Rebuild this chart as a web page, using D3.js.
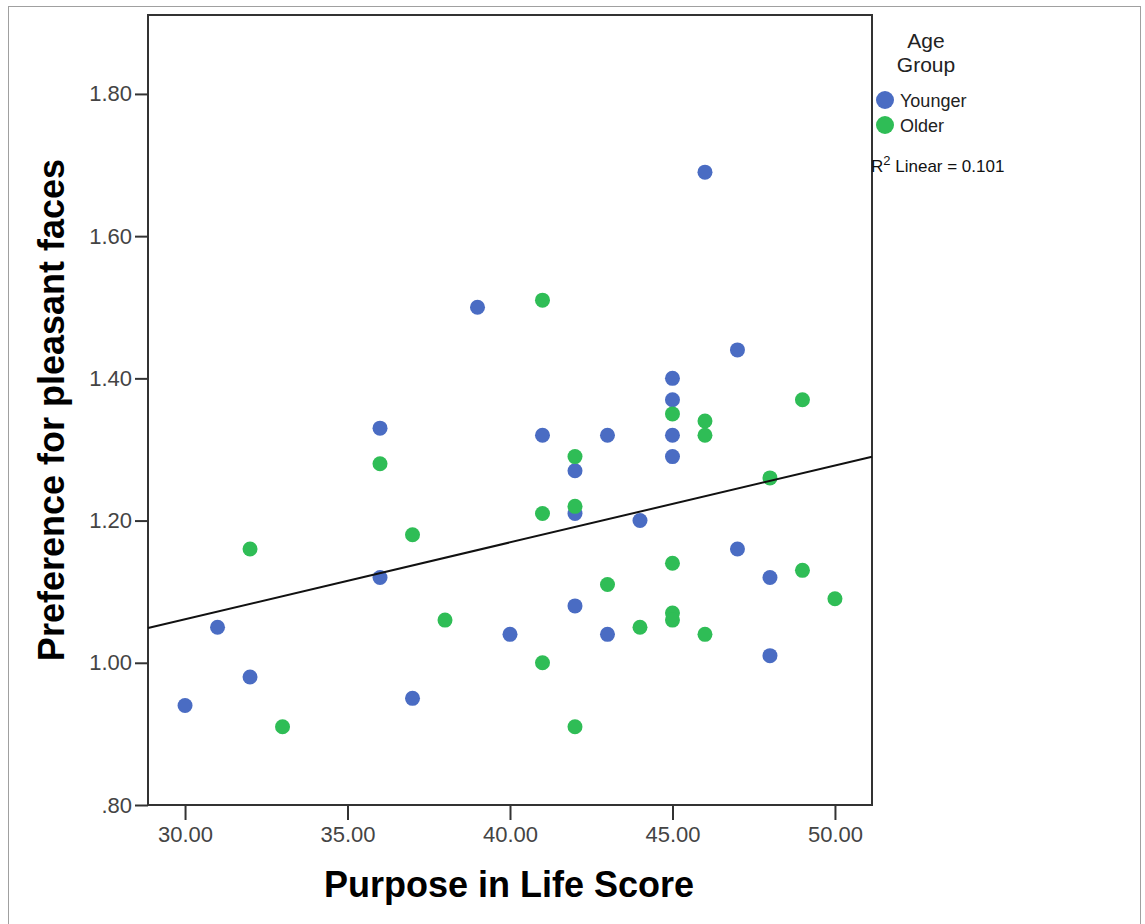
<!DOCTYPE html>
<html>
<head>
<meta charset="utf-8">
<script src="https://cdn.jsdelivr.net/npm/d3@7"></script>
<style>
  body { margin: 0; background: #fff; }
  text { font-family: "Liberation Sans", Arial, sans-serif; }
</style>
</head>
<body>
<svg id="chart" width="1145" height="924"></svg>
<script>
// data
var groups = ["Younger", "Older"]
var group_colors = ["#4a6cc3", "#2fbd56"]

var younger_x = [30, 31, 32, 36, 36, 37, 39, 40, 41, 42, 42, 42, 43, 43, 44, 45, 45, 45, 45, 46, 47, 47, 48, 48]
var younger_y = [0.94, 1.05, 0.98, 1.33, 1.12, 0.95, 1.50, 1.04, 1.32, 1.27, 1.21, 1.08, 1.32, 1.04, 1.20, 1.40, 1.37, 1.32, 1.29, 1.69, 1.44, 1.16, 1.12, 1.01]

var older_x = [32, 33, 36, 37, 38, 41, 41, 41, 42, 42, 42, 43, 44, 45, 45, 45, 45, 46, 46, 46, 48, 49, 49, 50]
var older_y = [1.16, 0.91, 1.28, 1.18, 1.06, 1.51, 1.21, 1.00, 1.29, 1.22, 0.91, 1.11, 1.05, 1.35, 1.14, 1.07, 1.06, 1.34, 1.32, 1.04, 1.26, 1.37, 1.13, 1.09]

var x_ticks = [30, 35, 40, 45, 50]
var y_ticks = [0.8, 1.0, 1.2, 1.4, 1.6, 1.8]
var r2_label = "0.101"

var svg = d3.select("#chart")
var plot_l = 148, plot_r = 872, plot_t = 15, plot_b = 805

var x = d3.scaleLinear().domain([28.86, 51.14]).range([plot_l, plot_r])
var y = d3.scaleLinear().domain([0.8, 1.911]).range([plot_b, plot_t])

// outer frame
svg.append("rect")
    .attr("x", 8.5).attr("y", 6.5)
    .attr("width", 1132).attr("height", 930)
    .attr("fill", "none")
    .attr("stroke", "#a0a0a0")
    .attr("stroke-width", 1)

var points = []
for(var i = 0; i < younger_x.length; i++){
    points.push({x: younger_x[i], y: younger_y[i], g: 0})
}
for(var i = 0; i < older_x.length; i++){
    points.push({x: older_x[i], y: older_y[i], g: 1})
}

// axes
var x_axis = svg.append("g")
    .attr("transform", "translate(0," + plot_b + ")")
    .call(d3.axisBottom(x).tickValues(x_ticks).tickSize(15).tickPadding(6).tickFormat(d3.format(".2f")))
var y_axis = svg.append("g")
    .attr("transform", "translate(" + plot_l + ",0)")
    .call(d3.axisLeft(y).tickValues(y_ticks).tickSize(13).tickPadding(3)
        .tickFormat(function(d){ return d3.format(".2f")(d).replace(/^0/, "") }))

x_axis.select(".domain").remove()
y_axis.select(".domain").remove()
svg.selectAll(".tick line").attr("stroke", "#333").attr("stroke-width", 2)
svg.selectAll(".tick text")
    .attr("fill", "#444")
    .attr("font-size", 22)
    .attr("font-family", "'Liberation Sans', Arial, sans-serif")

// plot box
svg.append("rect")
    .attr("x", plot_l).attr("y", plot_t)
    .attr("width", plot_r - plot_l).attr("height", plot_b - plot_t)
    .attr("fill", "none")
    .attr("stroke", "#333")
    .attr("stroke-width", 2)

// points
svg.append("g").selectAll("circle")
    .data(points)
    .enter().append("circle")
    .attr("cx", function(d){ return x(d.x) })
    .attr("cy", function(d){ return y(d.y) })
    .attr("r", 7.5)
    .attr("fill", function(d){ return group_colors[d.g] })

// linear fit over all points
var mx = d3.mean(points, function(d){ return d.x })
var my = d3.mean(points, function(d){ return d.y })
var sxy = d3.sum(points, function(d){ return (d.x - mx) * (d.y - my) })
var sxx = d3.sum(points, function(d){ return (d.x - mx) * (d.x - mx) })
var slope = sxy / sxx
var icpt = my - slope * mx
var xd = x.domain()

svg.append("line")
    .attr("x1", x(xd[0])).attr("y1", y(icpt + slope * xd[0]))
    .attr("x2", x(xd[1])).attr("y2", y(icpt + slope * xd[1]))
    .attr("stroke", "#111")
    .attr("stroke-width", 2)

// axis titles
svg.append("text")
    .attr("x", (plot_l + plot_r) / 2 - 1)
    .attr("y", 897)
    .attr("text-anchor", "middle")
    .attr("font-size", 36)
    .attr("font-weight", "bold")
    .attr("fill", "#000")
    .text("Purpose in Life Score")

svg.append("text")
    .attr("transform", "translate(64,410) rotate(-90)")
    .attr("text-anchor", "middle")
    .attr("font-size", 36)
    .attr("font-weight", "bold")
    .attr("fill", "#000")
    .text("Preference for pleasant faces")

// legend
var legend = svg.append("g")
legend.append("text")
    .attr("x", 926).attr("y", 48)
    .attr("text-anchor", "middle")
    .attr("font-size", 21)
    .attr("fill", "#222")
    .text("Age")
legend.append("text")
    .attr("x", 926).attr("y", 72)
    .attr("text-anchor", "middle")
    .attr("font-size", 21)
    .attr("fill", "#222")
    .text("Group")

var items = legend.selectAll("g.item")
    .data(groups)
    .enter().append("g")
    .attr("class", "item")
    .attr("transform", function(d, i){ return "translate(885," + (100 + i * 25) + ")" })
items.append("circle")
    .attr("r", 9)
    .attr("fill", function(d, i){ return group_colors[i] })
items.append("text")
    .attr("x", 15).attr("y", 7)
    .attr("font-size", 18)
    .attr("fill", "#222")
    .text(function(d){ return d })

var r2 = legend.append("text")
    .attr("x", 871).attr("y", 172)
    .attr("font-size", 17)
    .attr("fill", "#111")
r2.append("tspan").text("R")
r2.append("tspan").attr("dy", -7).attr("font-size", 13).text("2")
r2.append("tspan").attr("dy", 7).text(" Linear = " + r2_label)
</script>
</body>
</html>
